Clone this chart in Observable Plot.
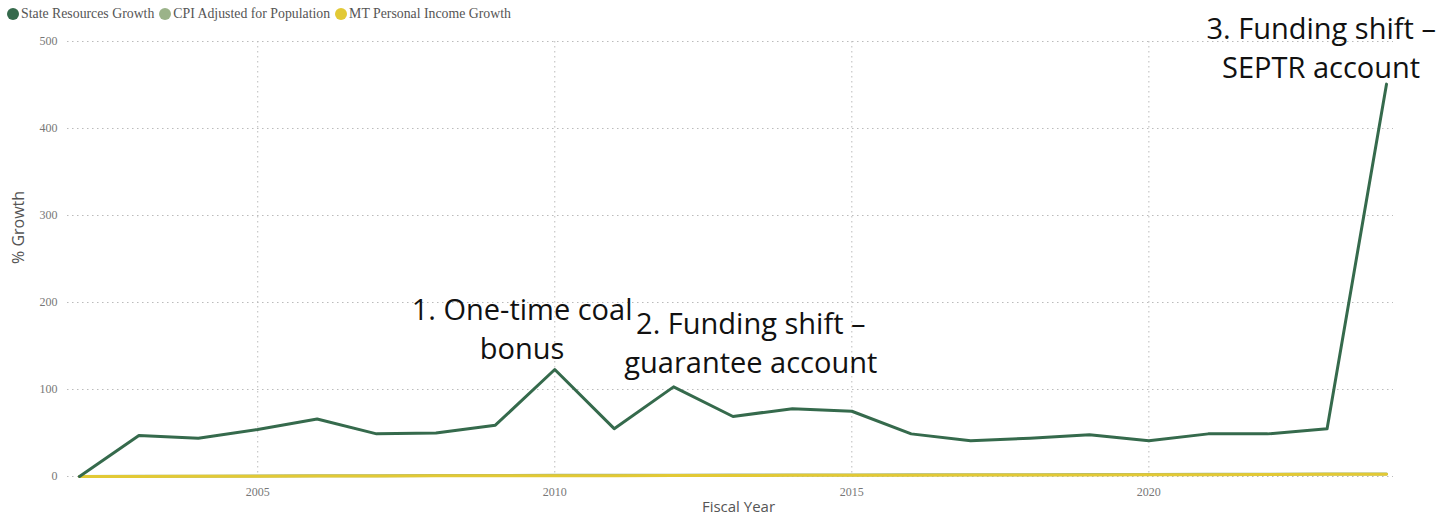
<!DOCTYPE html>
<html>
<head>
<meta charset="utf-8">
<script src="https://cdn.jsdelivr.net/npm/d3@7"></script>
<script src="https://cdn.jsdelivr.net/npm/@observablehq/plot@0.6"></script>
<style>
  body { margin: 0; background: #fff; }
  #wrap { position: relative; width: 1453px; height: 522px; }
  #legend { position: absolute; top: 6px; left: 7px; font-family: "Liberation Serif", serif; font-size: 13.8px; color: #555; display: flex; gap: 5px; align-items: center; z-index: 2; }
  #legend span.item { display: inline-flex; align-items: center; gap: 2px; }
  #legend span.dot { width: 12px; height: 12px; border-radius: 50%; display: inline-block; }
  svg { overflow: visible; }
</style>
</head>
<body>
<div id="wrap"><div id="legend"></div><div id="chart"></div></div>
<script>
const years = d3.range(2002, 2025);
const stateResources = [0, 47, 44, 54, 66, 49, 50, 59, 123, 55, 103, 69, 78, 75, 49, 41, 44, 48, 41, 49, 49, 55, 451];
const cpiAdjusted   = [0, 0.2, 0.4, 0.6, 0.8, 1.0, 1.1, 1.2, 1.3, 1.4, 1.5, 1.6, 1.7, 1.8, 1.9, 2.0, 2.1, 2.2, 2.3, 2.5, 2.7, 2.9, 3.0];
const mtIncome      = [0, 0.1, 0.3, 0.4, 0.6, 0.7, 0.8, 0.8, 0.9, 1.0, 1.1, 1.2, 1.3, 1.4, 1.5, 1.6, 1.7, 1.8, 1.9, 2.1, 2.3, 2.5, 2.7];
const seriesNames  = ["State Resources Growth", "CPI Adjusted for Population", "MT Personal Income Growth"];
const seriesColors = ["#356a4c", "#9bb389", "#e2c935"];
const yTicks = [0, 100, 200, 300, 400, 500];
const xTicks = [2005, 2010, 2015, 2020];
const annotations = [
  {year: 2009.45, value: 135, text: "1. One-time coal\nbonus"},
  {year: 2013.3, value: 119, text: "2. Funding shift –\nguarantee account"},
  {year: 2022.9, value: 458, text: "3. Funding shift –\nSEPTR account"}
];

const seriesValues = [stateResources, cpiAdjusted, mtIncome];
const data = [];
seriesNames.forEach((name, i) => years.forEach((y, j) => data.push({series: name, year: y, value: seriesValues[i][j]})));

const legend = document.getElementById("legend");
seriesNames.forEach((n, i) => {
  const s = document.createElement("span"); s.className = "item";
  s.innerHTML = `<span class="dot" style="background:${seriesColors[i]}"></span>${n}`;
  legend.appendChild(s);
});

const chart = Plot.plot({
  width: 1453,
  height: 522,
  marginLeft: 67,
  marginRight: 60,
  marginTop: 41,
  marginBottom: 46,
  x: {domain: [2002, 2024], insetLeft: 12, insetRight: 7, label: null},
  y: {domain: [0, 500], label: null},
  color: {domain: seriesNames, range: seriesColors},
  style: {fontFamily: "Liberation Serif, serif", fontSize: "12px", color: "#777"},
  marks: [
    Plot.ruleY(yTicks, {stroke: "#bbb", strokeDasharray: "1.5,3.5", strokeWidth: 1}),
    Plot.ruleX(xTicks, {stroke: "#bbb", strokeDasharray: "1.5,3.5", strokeWidth: 1}),
    Plot.axisY({ticks: yTicks, tickSize: 0, tickPadding: 10, tickFormat: d => String(d), fontSize: 12, fill: "#777", label: null}),
    Plot.axisX({ticks: xTicks, tickSize: 0, tickPadding: 11, tickFormat: d => String(d), fontSize: 12, fill: "#777", label: null}),
    Plot.line(data.filter(d => d.series !== seriesNames[0]), {x: "year", y: "value", z: "series", stroke: "series", strokeWidth: 3}),
    Plot.line(data.filter(d => d.series === seriesNames[0]), {x: "year", y: "value", stroke: "series", strokeWidth: 3}),
    Plot.text(annotations, {x: "year", y: "value", text: "text", lineAnchor: "bottom", fontSize: 29, fill: "#111", fontFamily: "Open Sans, sans-serif", lineHeight: 1.36}),
    Plot.text(["% Growth"], {frameAnchor: "left", dx: -49, dy: 5, rotate: -90, fontSize: 16, fill: "#555", fontFamily: "Open Sans, sans-serif"}),
    Plot.text(["Fiscal Year"], {frameAnchor: "bottom", dx: 8, dy: 35, fontSize: 15, fill: "#555", fontFamily: "Open Sans, sans-serif"})
  ]
});
document.getElementById("chart").appendChild(chart);
</script>
</body>
</html>
